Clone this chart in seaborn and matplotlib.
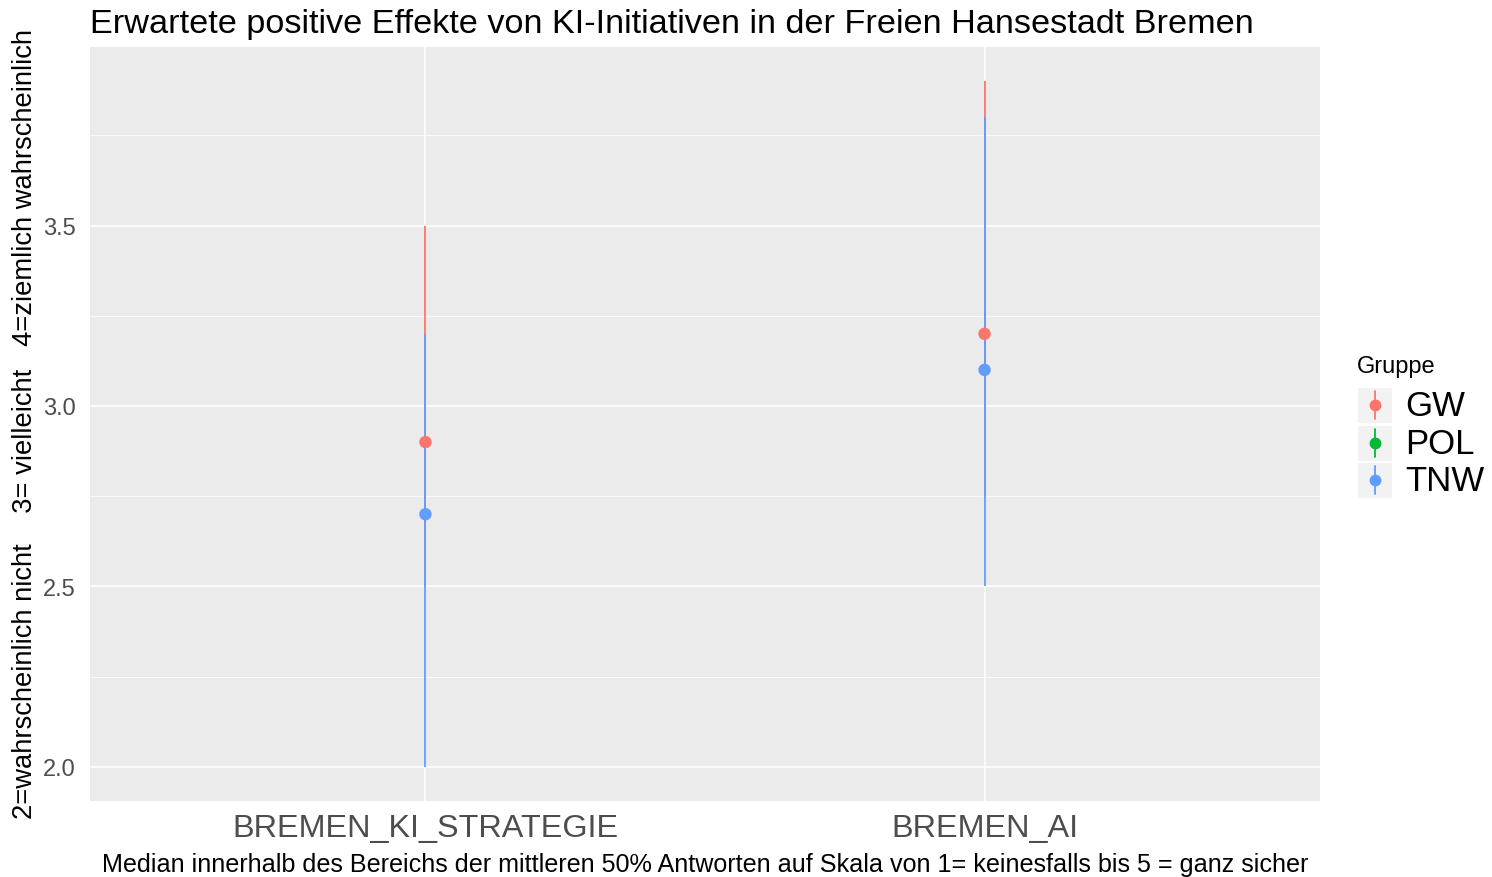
import numpy as np
import pandas as pd
import matplotlib
matplotlib.use("Agg")
import matplotlib.pyplot as plt
from matplotlib.patches import Rectangle
from matplotlib.lines import Line2D
import seaborn as sns

# ---------------- data ----------------
categories = ["BREMEN_KI_STRATEGIE", "BREMEN_AI"]
groups = ["GW", "POL", "TNW"]
gw_median = [2.9, 3.2]
gw_low = [2.5, 2.75]
gw_high = [3.5, 3.9]
tnw_median = [2.7, 3.1]
tnw_low = [2.0, 2.5]
tnw_high = [3.2, 3.8]
y_ticks = [2.0, 2.5, 3.0, 3.5]

title = "Erwartete positive Effekte von KI-Initiativen in der Freien Hansestadt Bremen"
xlabel = "Median innerhalb des Bereichs der mittleren 50% Antworten auf Skala von 1= keinesfalls bis 5 = ganz sicher"
ylabel = "2=wahrscheinlich nicht    3= vielleicht   4=ziemlich wahrscheinlich"
legend_title = "Gruppe"

palette = {"GW": "#F8766D", "POL": "#00BA38", "TNW": "#619CFF"}

rows = []
for i, c in enumerate(categories):
    rows.append(dict(cat=c, pos=i, Gruppe="GW", med=gw_median[i], lo=gw_low[i], hi=gw_high[i]))
for i, c in enumerate(categories):
    rows.append(dict(cat=c, pos=i, Gruppe="TNW", med=tnw_median[i], lo=tnw_low[i], hi=tnw_high[i]))
df = pd.DataFrame(rows)

# ---------------- style ----------------
sns.set_style("darkgrid", {"axes.facecolor": "#EBEBEB", "grid.color": "white"})
plt.rcParams["font.family"] = ["Liberation Sans", "DejaVu Sans"]

W, H = 1492, 878
fig = plt.figure(figsize=(W / 100, H / 100), dpi=100)
fig.patch.set_facecolor("white")
L, R, T, B = 90, 1320, 48, 802
ax = fig.add_axes([L / W, 1 - B / H, (R - L) / W, (B - T) / H])

def fy(p):
    return 1 - p / H

# ranges
for g in ["GW", "TNW"]:
    sub = df[df.Gruppe == g]
    ax.vlines(sub["pos"], sub["lo"], sub["hi"], colors=palette[g], linewidth=1.3, zorder=3)
# points
sns.scatterplot(data=df, x="pos", y="med", hue="Gruppe", palette=palette,
                hue_order=groups, s=80, linewidth=0, ax=ax, legend=False, zorder=4)

# scales
ax.set_xlim(-0.6, len(categories) - 1 + 0.6)
dmin = min(min(gw_low), min(tnw_low))
dmax = max(max(gw_high), max(tnw_high))
pad = (dmax - dmin) * 0.05
ax.set_ylim(dmin - pad, dmax + pad)
ax.set_xticks(range(len(categories)))
ax.set_xticklabels(categories)
ax.set_yticks(y_ticks)
ax.set_yticklabels([f"{v:.1f}" for v in y_ticks])
ax.set_yticks([v + 0.25 for v in y_ticks], minor=True)
ax.grid(which="major", color="white", linewidth=1.1)
ax.grid(which="minor", color="white", linewidth=0.55)
ax.set_axisbelow(True)
for s in ax.spines.values():
    s.set_visible(False)
ax.tick_params(axis="both", which="major", length=3.6, width=0.8, color="#333333")
ax.tick_params(axis="both", which="minor", length=0)
ax.tick_params(axis="y", labelsize=17, labelcolor="#4D4D4D", pad=6.5)
ax.tick_params(axis="x", labelsize=23.3, labelcolor="#4D4D4D", pad=5)
ax.set_xlabel("")
ax.set_ylabel("")

fig.text(90 / W, fy(33), title, fontsize=24.7, color="black", ha="left", va="baseline")
fig.text(705 / W, fy(872), xlabel, fontsize=18.1, color="black", ha="center", va="baseline")
fig.text(25 / W, fy(424), ylabel, fontsize=19.7, color="black", ha="center", va="center",
         rotation=90)

# ---------------- legend (manual, ggplot-like) ----------------
fig.text(1357 / W, fy(367), legend_title, fontsize=17, va="center", ha="left", color="black")
row_c = [406, 444, 481]
for g, yc in zip(groups, row_c):
    fig.patches.append(Rectangle((1358 / W, fy(yc + 18)), 34 / W, 35 / H,
                                 transform=fig.transFigure, facecolor="#F2F2F2",
                                 edgecolor="none", figure=fig))
    fig.lines.append(Line2D([1375 / W, 1375 / W], [fy(yc - 14), fy(yc + 14)],
                            transform=fig.transFigure, color=palette[g], linewidth=1.3, figure=fig))
    fig.lines.append(Line2D([1375 / W], [fy(yc)], transform=fig.transFigure,
                            marker="o", markersize=7.5, color=palette[g], linestyle="none", figure=fig))
    fig.text(1405 / W, fy(yc + 1), g, fontsize=25, va="center", ha="left", color="black")

fig.savefig("out.png", dpi=100)
